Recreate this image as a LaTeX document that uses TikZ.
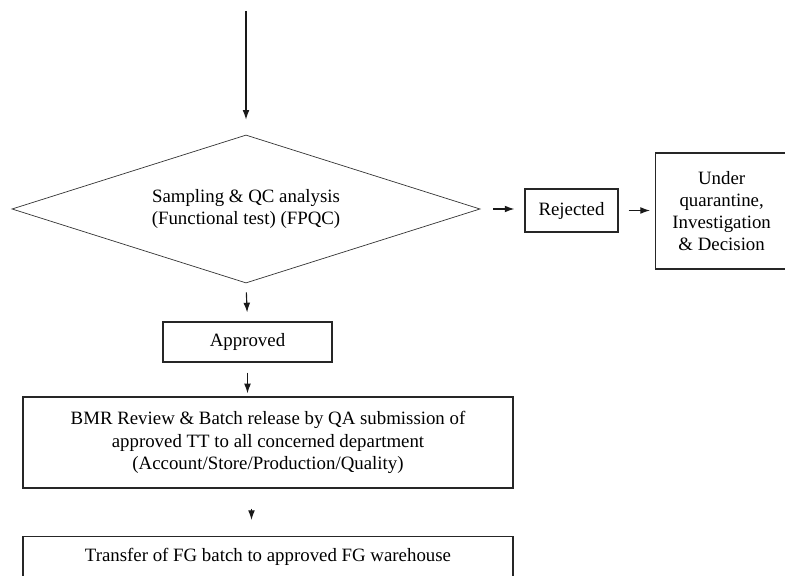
\documentclass[tikz,border=0pt]{standalone}
\usepackage{fontspec}
\setmainfont{Liberation Serif}
\usetikzlibrary{shapes.geometric, arrows.meta, positioning}
\tikzset{
    box/.style={rectangle, draw=black!85, line width=0.9pt, inner sep=0pt, align=center, font=\fontsize{13.4}{15.8}\selectfont},
    decision/.style={diamond, aspect=3.16, draw=black!80, line width=0.5pt, inner sep=0pt, align=center, font=\fontsize{13.4}{15.8}\selectfont},
    arr/.style={-{Latex[length=2.4mm, width=1.7mm]}, line width=0.8pt, black!90},
}
\begin{document}
\begin{tikzpicture}[x=0.025cm, y=-0.025cm]

\clip (0,0) rectangle (785,576);

% ── Main flow ──
\coordinate (in) at (246,11);
\node[decision, minimum width=11.7cm, minimum height=3.7cm] (dia) at (246,209) {Sampling \& QC analysis\\(Functional test) (FPQC)};
\node[box, minimum width=4.225cm, minimum height=1cm] (app) at (247.5,342) {Approved};
\node[box, minimum width=12.25cm, minimum height=2.275cm] (bmr) at (268,442.5) {BMR Review \& Batch release by QA submission of\\approved TT to all concerned department\\(Account/Store/Production/Quality)};
\node[box, anchor=north, minimum width=12.25cm, text height=0.62cm, text depth=0.9cm] (fg) at (268,536) {Transfer of FG batch to approved FG warehouse};

% ── Rejection branch ──
\node[box, minimum width=2.325cm, minimum height=1.075cm] (rej) at (571.5,210.5) {Rejected};
\node[box, anchor=west, minimum width=3.3cm, minimum height=2.9cm] (quar) at (655,211) {Under\\quarantine,\\Investigation\\\& Decision};

% ── Connections ──
\draw[arr, shorten >=0.375cm] (in) -- (dia.north);
\draw[arr, shorten <=0.225cm, shorten >=0.225cm] (dia.south) -- (app.north);
\draw[arr, shorten <=0.25cm, shorten >=0.075cm] (app.south) -- (app.south |- bmr.north);
\draw[arr, shorten <=0.5cm, shorten >=0.4cm] (bmr.south -| app.south) ++(4,0) coordinate (b1) -- (b1 |- fg.north);
\draw[arr, shorten <=0.325cm, shorten >=0.25cm] (dia.east) -- (dia.east -| rej.west);
\draw[arr, shorten <=0.25cm, shorten >=0.125cm] (rej.east) -- (rej.east -| quar.west);

\end{tikzpicture}
\end{document}
